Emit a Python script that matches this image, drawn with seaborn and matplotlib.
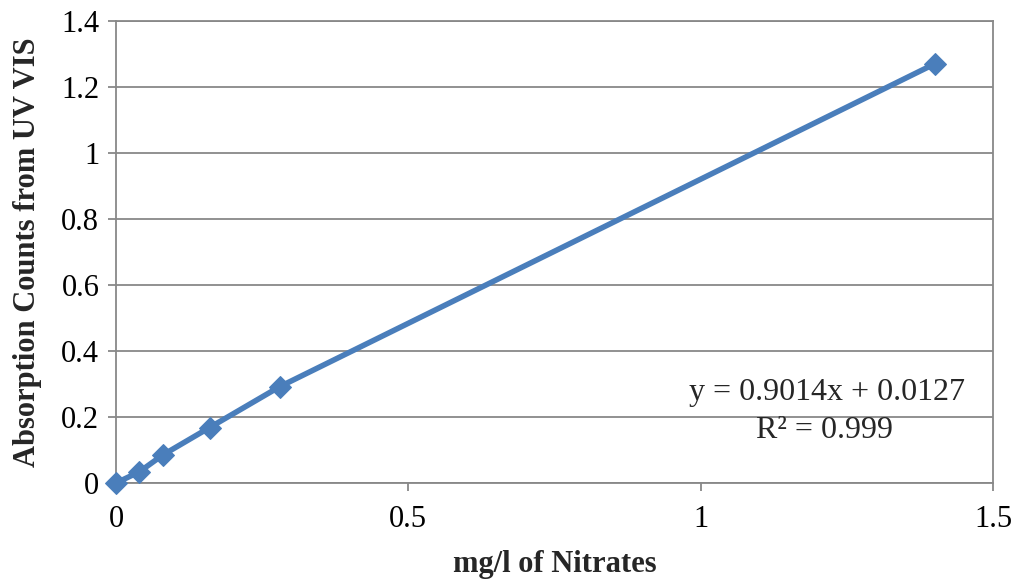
import matplotlib
matplotlib.use("Agg")
import matplotlib.pyplot as plt
import seaborn as sns
import pandas as pd

conc = [0.0, 0.04, 0.08, 0.16, 0.28, 1.40]
absorb = [0.0, 0.034, 0.085, 0.168, 0.292, 1.27]
x_ticks = [0, 0.5, 1, 1.5]
x_tick_labels = ["0", "0.5", "1", "1.5"]
y_ticks = [0, 0.2, 0.4, 0.6, 0.8, 1.0, 1.2, 1.4]
y_tick_labels = ["0", "0.2", "0.4", "0.6", "0.8", "1", "1.2", "1.4"]

sns.set_theme(style="white")
plt.rcParams["font.family"] = ["Liberation Serif", "DejaVu Serif"]

df = pd.DataFrame({"x": conc, "y": absorb})
fig = plt.figure(figsize=(10.16, 5.79), dpi=100)
ax = fig.add_axes([0.1142, 0.1658, 0.8632, 0.7979])

color = "#4A7EBB"
sns.lineplot(data=df, x="x", y="y", ax=ax, color=color, linewidth=4,
             marker="D", markersize=11, markeredgecolor=color, markerfacecolor=color,
             sort=False, estimator=None, clip_on=False, zorder=5)

ax.set_xlim(0, 1.5)
ax.set_ylim(0, 1.4)
ax.set_xticks(x_ticks)
ax.set_xticklabels(x_tick_labels)
ax.set_yticks(y_ticks)
ax.set_yticklabels(y_tick_labels)
ax.yaxis.grid(True, color="#888888", linewidth=1.3)
ax.xaxis.grid(False)
for s in ax.spines.values():
    s.set_color("#888888")
    s.set_linewidth(1.3)
ax.tick_params(axis="both", which="major", labelsize=22, colors="#000000",
               direction="out", length=6, width=1.3, color="#888888",
               left=True, bottom=True)
ax.tick_params(axis="x", pad=10)
ax.tick_params(axis="y", pad=6)
ax.set_xlabel("mg/l of Nitrates", fontsize=22, fontweight="bold", labelpad=11)
ax.set_ylabel("Absorption Counts from UV VIS", fontsize=22, fontweight="bold", labelpad=14)

ax.text(1.216, 0.273, "y = 0.9014x + 0.0127", fontsize=23, ha="center", va="center")
ax.text(1.212, 0.16, "R² = 0.999", fontsize=23, ha="center", va="center")

fig.savefig("out.png", dpi=100)
